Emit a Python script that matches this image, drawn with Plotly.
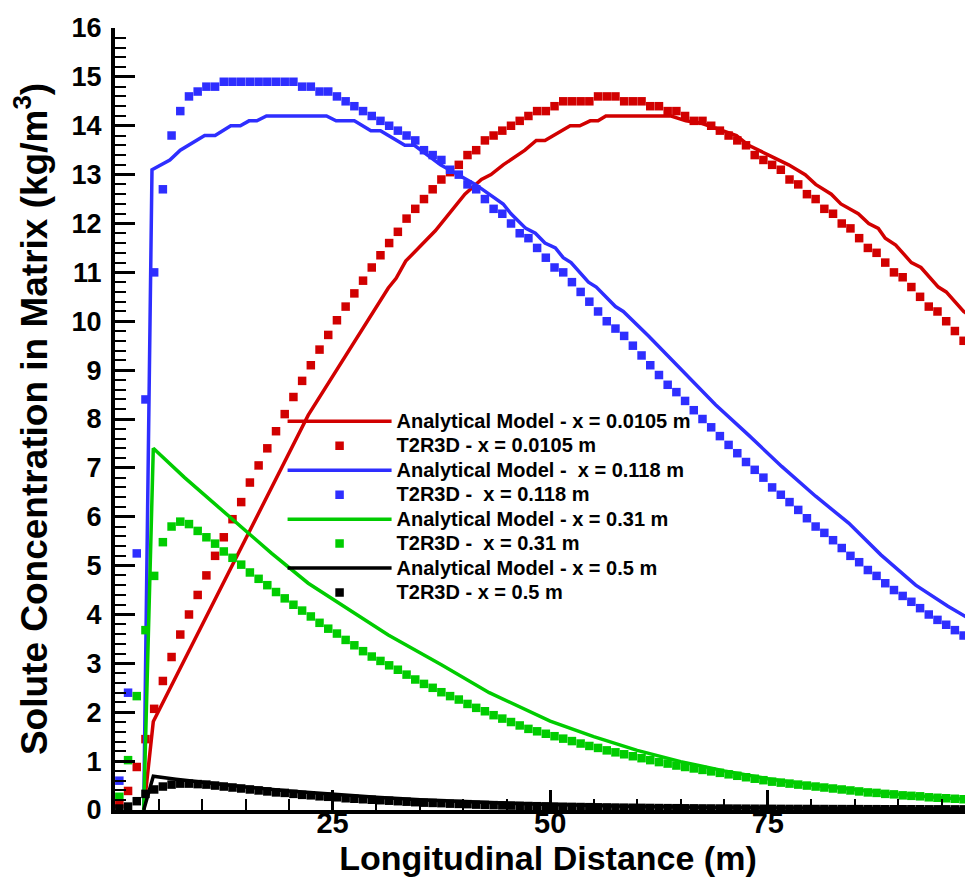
import numpy as np
import plotly.graph_objects as go

# ---------------- data ----------------
# T2R3D simulation grid (cell centres, m)
dist_sim = np.arange(0.5, 100.0, 1.0)

t2r3d_00105 = [0.12, 0.39, 0.88, 1.45, 2.07, 2.64, 3.13, 3.59, 4.0, 4.4,
               4.8, 5.2, 5.58, 5.95, 6.3, 6.7, 7.05, 7.4, 7.75, 8.1,
               8.45, 8.78, 9.1, 9.42, 9.72, 10.02, 10.3, 10.57, 10.83, 11.1,
               11.35, 11.6, 11.83, 12.1, 12.3, 12.5, 12.7, 12.9, 13.05, 13.2,
               13.4, 13.5, 13.7, 13.8, 13.9, 14.0, 14.1, 14.2, 14.3, 14.3,
               14.4, 14.5, 14.5, 14.5, 14.5, 14.6, 14.6, 14.6, 14.5, 14.5,
               14.5, 14.4, 14.4, 14.3, 14.3, 14.2, 14.1, 14.1, 14.0, 13.9,
               13.8, 13.7, 13.6, 13.4, 13.3, 13.2, 13.1, 12.9, 12.8, 12.6,
               12.5, 12.3, 12.2, 12.0, 11.9, 11.7, 11.5, 11.4, 11.2, 11.0,
               10.9, 10.7, 10.5, 10.3, 10.2, 10.0, 9.8, 9.6, 9.45, 9.27]

t2r3d_0118 = [0.6, 2.4, 5.25, 8.4, 11.0, 12.7, 13.8, 14.3, 14.6, 14.7,
              14.8, 14.8, 14.9, 14.9, 14.9, 14.9, 14.9, 14.9, 14.9, 14.9,
              14.9, 14.8, 14.8, 14.7, 14.7, 14.6, 14.5, 14.4, 14.3, 14.2,
              14.1, 14.0, 13.9, 13.8, 13.7, 13.5, 13.4, 13.3, 13.1, 13.0,
              12.8, 12.7, 12.5, 12.3, 12.2, 12.0, 11.8, 11.7, 11.5, 11.3,
              11.1, 11.0, 10.8, 10.6, 10.4, 10.2, 10.0, 9.85, 9.7, 9.5,
              9.3, 9.1, 8.9, 8.7, 8.55, 8.37, 8.18, 8.0, 7.83, 7.65,
              7.47, 7.3, 7.12, 6.96, 6.8, 6.6, 6.45, 6.3, 6.14, 5.97,
              5.8, 5.67, 5.52, 5.36, 5.2, 5.07, 4.91, 4.79, 4.64, 4.5,
              4.38, 4.26, 4.13, 4.0, 3.89, 3.79, 3.68, 3.57, 3.46, 3.35]

t2r3d_031 = [0.27, 1.02, 2.33, 3.68, 4.79, 5.48, 5.8, 5.9, 5.85, 5.71,
             5.58, 5.45, 5.29, 5.16, 5.02, 4.86, 4.73, 4.6, 4.46, 4.33,
             4.2, 4.08, 3.96, 3.83, 3.71, 3.61, 3.48, 3.37, 3.25, 3.14,
             3.05, 2.96, 2.87, 2.77, 2.67, 2.58, 2.5, 2.41, 2.33, 2.26,
             2.17, 2.09, 2.02, 1.94, 1.87, 1.8, 1.73, 1.66, 1.61, 1.56,
             1.51, 1.46, 1.41, 1.36, 1.31, 1.27, 1.22, 1.18, 1.14, 1.1,
             1.06, 1.02, 0.98, 0.95, 0.91, 0.88, 0.85, 0.82, 0.79, 0.76,
             0.73, 0.7, 0.67, 0.64, 0.61, 0.58, 0.56, 0.54, 0.52, 0.5,
             0.48, 0.46, 0.44, 0.42, 0.4, 0.38, 0.36, 0.35, 0.33, 0.32,
             0.3, 0.29, 0.28, 0.26, 0.25, 0.24, 0.23, 0.22, 0.21, 0.2]

t2r3d_05 = [0.03, 0.07, 0.18, 0.33, 0.42, 0.48, 0.52, 0.54, 0.54, 0.53,
            0.52, 0.5, 0.48, 0.46, 0.44, 0.42, 0.4, 0.38, 0.36, 0.35,
            0.33, 0.31, 0.3, 0.28, 0.27, 0.26, 0.24, 0.23, 0.22, 0.21,
            0.2, 0.19, 0.18, 0.17, 0.16, 0.15, 0.145, 0.14, 0.13, 0.125,
            0.12, 0.11, 0.105, 0.1, 0.095, 0.09, 0.086, 0.082, 0.078, 0.074,
            0.07, 0.067, 0.064, 0.061, 0.058, 0.055, 0.053, 0.05, 0.048, 0.046,
            0.044, 0.042, 0.04, 0.038, 0.037, 0.035, 0.034, 0.032, 0.031, 0.03,
            0.029, 0.028, 0.027, 0.026, 0.025, 0.024, 0.023, 0.022, 0.022, 0.021,
            0.02, 0.02, 0.019, 0.019, 0.018, 0.018, 0.017, 0.017, 0.016, 0.016,
            0.015, 0.015, 0.015, 0.014, 0.014, 0.014, 0.013, 0.013, 0.013, 0.012]

# Analytical model curves
ana_00105_x = [3.3, 4.4, 22.2, 31.4, 32.3, 33.4, 36.8, 40.2, 42.1, 43.2, 44.6, 47.1,
               48.4, 49.4, 52.3, 53.4, 54.6, 55.5, 56.4, 63.9, 65.6, 67.4, 71.4, 72.8,
               75.1, 77.4, 79.3, 80.5, 82.3, 83.4, 85.4, 86.6, 87.7, 88.5, 89.7, 91.5,
               92.6, 94.6, 95.5, 97.5, 98.4, 99.5]
ana_00105_y = [0.0, 1.81, 8.08, 10.68, 10.88, 11.23, 11.85, 12.6, 12.9, 13.0, 13.2, 13.5,
               13.7, 13.7, 14.0, 14.0, 14.1, 14.1, 14.2, 14.2, 14.1, 14.05, 13.8, 13.6,
               13.4, 13.2, 13.0, 12.8, 12.6, 12.4, 12.2, 12.0, 11.9, 11.7, 11.56, 11.2,
               11.1, 10.7, 10.6, 10.2, 10.1, 9.9]

ana_0118_x = [3.3, 4.25, 6.3, 7.5, 10.3, 11.5, 13.3, 14.4, 15.4, 16.3, 17.4, 24.3,
              25.4, 27.5, 29.4, 30.5, 33.3, 34.4, 37.4, 41.4, 44.6, 45.5, 47.2, 48.3,
              49.4, 50.6, 51.5, 52.4, 54.4, 55.3, 57.5, 58.4, 61.3, 65.1, 69.0, 72.8,
              76.6, 80.5, 84.3, 88.0, 92.0, 95.7, 99.5]
ana_0118_y = [0.0, 13.1, 13.3, 13.5, 13.8, 13.8, 14.0, 14.0, 14.1, 14.1, 14.2, 14.2,
              14.1, 14.1, 13.9, 13.9, 13.6, 13.6, 13.2, 12.8, 12.4, 12.2, 11.9, 11.8,
              11.6, 11.5, 11.3, 11.2, 10.8, 10.7, 10.3, 10.2, 9.7, 9.0, 8.29, 7.67,
              7.03, 6.42, 5.87, 5.22, 4.6, 4.17, 3.77]

ana_031_x = [3.3, 4.4, 8.0, 13.3, 18.0, 22.2, 26.0, 31.4, 37.5, 43.0, 50.0, 55.0,
             60.0, 65.0, 70.0, 75.0, 80.0, 85.0, 90.0, 95.0, 99.5]
ana_031_y = [0.0, 7.4, 6.8, 5.97, 5.25, 4.64, 4.2, 3.58, 2.97, 2.4, 1.82, 1.5,
             1.22, 0.99, 0.8, 0.64, 0.51, 0.41, 0.32, 0.25, 0.2]

ana_05_x = [3.3, 4.4, 7.0, 10.0, 15.0, 20.0, 25.0, 30.0, 35.0, 40.0, 45.0, 50.0,
            60.0, 70.0, 80.0, 90.0, 99.5]
ana_05_y = [0.0, 0.69, 0.63, 0.57, 0.47, 0.39, 0.32, 0.26, 0.21, 0.17, 0.14, 0.11,
            0.07, 0.05, 0.035, 0.025, 0.02]

x_tick_vals = [25, 50, 75]
x_tick_text = ["25", "50", "75"]
y_tick_vals = list(range(0, 17))

# ---------------- style ----------------
RED = "#D10000"
BLUE = "#2E2EFF"
GREEN = "#00CC00"
BLACK = "#000000"
FONT = "Liberation Sans, Arial, Helvetica, sans-serif"
LW = 3.5
MS = 8.5


def legend_label(txt):
    return '<span style="font-size:20px">' + txt + '</span>'


fig = go.Figure()

series = [
    (ana_00105_x, ana_00105_y, dist_sim, t2r3d_00105, RED,
     "Analytical Model - x = 0.0105 m", "T2R3D - x = 0.0105 m"),
    (ana_0118_x, ana_0118_y, dist_sim, t2r3d_0118, BLUE,
     "Analytical Model -\u00a0 x = 0.118 m", "T2R3D -\u00a0 x = 0.118 m"),
    (ana_031_x, ana_031_y, dist_sim, t2r3d_031, GREEN,
     "Analytical Model - x = 0.31 m", "T2R3D -\u00a0 x = 0.31 m"),
    (ana_05_x, ana_05_y, dist_sim, t2r3d_05, BLACK,
     "Analytical Model - x = 0.5 m", "T2R3D - x = 0.5 m"),
]

for ax_, ay_, sx_, sy_, col, lname, sname in series:
    fig.add_trace(go.Scatter(x=ax_, y=ay_, mode="lines", name=legend_label(lname),
                             line=dict(color=col, width=LW)))
    fig.add_trace(go.Scatter(x=sx_, y=sy_, mode="markers", name=legend_label(sname),
                             marker=dict(symbol="square", size=MS, color=col,
                                         line=dict(width=0)),
                             cliponaxis=False))

fig.update_layout(
    width=973, height=879,
    margin=dict(l=107, r=0, t=20, b=77),
    paper_bgcolor="white", plot_bgcolor="white",
    font=dict(family=FONT, color="black", weight="bold"),
    showlegend=True,
    legend=dict(x=0.1935, y=0.519, xanchor="left", yanchor="top",
                bgcolor="rgba(0,0,0,0)", borderwidth=0,
                font=dict(family=FONT, size=16.5, color="black", weight="bold"),
                itemwidth=104, tracegroupgap=0),
)

fig.update_xaxes(
    range=[0, 99.5], showgrid=False, zeroline=False,
    showline=True, linecolor="black", linewidth=4,
    ticks="inside", ticklen=20, tickwidth=3, tickcolor="black",
    tickmode="array", tickvals=x_tick_vals, ticktext=x_tick_text,
    ticklabelstandoff=-16,
    tickfont=dict(family=FONT, size=29, color="black", weight="bold"),
    minor=dict(ticks="inside", ticklen=11, tickwidth=2, tickcolor="black",
               tickmode="linear", tick0=0, dtick=5),
    title=dict(text="Longitudinal Distance (m)", standoff=6,
               font=dict(family=FONT, size=34, color="black", weight="bold")),
)

fig.update_yaxes(
    range=[0, 16], showgrid=False, zeroline=False,
    showline=True, linecolor="black", linewidth=4,
    ticks="inside", ticklen=20, tickwidth=3, tickcolor="black",
    tickmode="array", tickvals=y_tick_vals,
    ticklabelstandoff=4,
    tickfont=dict(family=FONT, size=27, color="black", weight="bold"),
    minor=dict(ticks="inside", ticklen=11, tickwidth=2, tickcolor="black",
               tickmode="linear", tick0=0, dtick=0.2),
    title=dict(text="Solute Concentration in Matrix (kg/m<sup>3</sup>)", standoff=20,
               font=dict(family=FONT, size=37, color="black", weight="bold")),
)

fig.write_html("out.html")
